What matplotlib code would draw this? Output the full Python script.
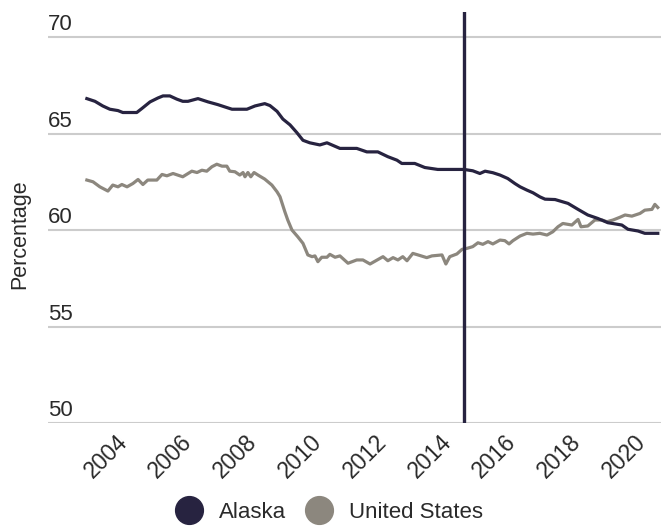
import matplotlib
matplotlib.use("Agg")
import matplotlib.pyplot as plt
import matplotlib.transforms as mtransforms
from matplotlib.lines import Line2D

plt.rcParams["font.family"] = ["Liberation Sans", "DejaVu Sans"]

# Employment-to-population ratio, decimal years
alaska_years = [2002.61, 2002.86, 2003.10, 2003.32, 2003.57, 2003.72, 2004.15, 2004.31,
                2004.56, 2004.80, 2004.96, 2005.17, 2005.39, 2005.57, 2005.73, 2006.04,
                2006.35, 2006.65, 2006.96, 2007.09, 2007.55, 2007.80, 2008.10, 2008.26,
                2008.48, 2008.66, 2008.88, 2009.09, 2009.28, 2009.49, 2009.80, 2010.02,
                2010.42, 2010.94, 2011.25, 2011.59, 2011.90, 2012.18, 2012.33, 2012.73,
                2013.04, 2013.44, 2014.25, 2014.52, 2014.74, 2014.90, 2015.14, 2015.36,
                2015.60, 2015.82, 2015.98, 2016.19, 2016.38, 2016.59, 2016.75, 2017.06,
                2017.46, 2017.77, 2018.07, 2018.38, 2018.69, 2019.12, 2019.31, 2019.62,
                2019.83, 2020.23]
alaska_values = [66.81, 66.67, 66.43, 66.26, 66.19, 66.09, 66.09, 66.30,
                 66.64, 66.84, 66.95, 66.95, 66.78, 66.67, 66.67, 66.81,
                 66.64, 66.50, 66.33, 66.26, 66.26, 66.43, 66.55, 66.45,
                 66.15, 65.75, 65.45, 65.05, 64.65, 64.52, 64.41, 64.52,
                 64.23, 64.23, 64.05, 64.05, 63.80, 63.62, 63.45, 63.45,
                 63.24, 63.14, 63.14, 63.07, 62.93, 63.05, 62.97, 62.85,
                 62.67, 62.41, 62.24, 62.07, 61.93, 61.72, 61.60, 61.58,
                 61.38, 61.07, 60.78, 60.60, 60.38, 60.26, 60.04, 59.95,
                 59.83, 59.83]

us_years = [2002.61, 2002.80, 2003.01, 2003.26, 2003.41, 2003.57, 2003.69, 2003.85,
            2004.03, 2004.19, 2004.34, 2004.49, 2004.77, 2004.93, 2005.08, 2005.27,
            2005.57, 2005.85, 2006.01, 2006.16, 2006.31, 2006.47, 2006.62, 2006.78,
            2006.93, 2007.02, 2007.18, 2007.33, 2007.43, 2007.49, 2007.58, 2007.67,
            2007.77, 2007.89, 2008.10, 2008.32, 2008.48, 2008.57, 2008.72, 2008.81,
            2008.94, 2009.12, 2009.28, 2009.43, 2009.56, 2009.65, 2009.74, 2009.86,
            2010.02, 2010.11, 2010.27, 2010.42, 2010.67, 2010.94, 2011.13, 2011.35,
            2011.75, 2011.90, 2012.06, 2012.21, 2012.36, 2012.49, 2012.67, 2012.83,
            2013.10, 2013.26, 2013.57, 2013.69, 2013.81, 2014.03, 2014.19, 2014.34,
            2014.52, 2014.68, 2014.83, 2014.99, 2015.14, 2015.36, 2015.51, 2015.64,
            2015.76, 2015.98, 2016.19, 2016.38, 2016.59, 2016.81, 2016.99, 2017.15,
            2017.30, 2017.58, 2017.77, 2017.86, 2018.07, 2018.29, 2018.51, 2018.66,
            2018.85, 2019.06, 2019.22, 2019.43, 2019.68, 2019.83, 2020.05, 2020.14,
            2020.23]
us_values = [62.59, 62.50, 62.24, 62.02, 62.33, 62.24, 62.36, 62.24,
             62.41, 62.62, 62.36, 62.59, 62.59, 62.88, 62.81, 62.93,
             62.76, 63.05, 62.98, 63.10, 63.05, 63.28, 63.41, 63.31,
             63.31, 63.05, 63.02, 62.85, 62.98, 62.76, 62.98, 62.76,
             62.98, 62.85, 62.64, 62.33, 61.98, 61.73, 60.95, 60.52,
             60.00, 59.65, 59.31, 58.71, 58.62, 58.66, 58.36, 58.59,
             58.59, 58.74, 58.59, 58.66, 58.28, 58.45, 58.45, 58.24,
             58.62, 58.41, 58.57, 58.45, 58.62, 58.41, 58.79, 58.71,
             58.57, 58.66, 58.71, 58.24, 58.62, 58.76, 59.00, 59.05,
             59.14, 59.34, 59.26, 59.40, 59.28, 59.48, 59.45, 59.28,
             59.45, 59.69, 59.83, 59.79, 59.83, 59.74, 59.91, 60.17,
             60.34, 60.26, 60.55, 60.17, 60.21, 60.52, 60.52, 60.43,
             60.52, 60.66, 60.78, 60.72, 60.86, 61.03, 61.07, 61.33,
             61.17]

event_year = 2014.25
x_ticks = [2004, 2006, 2008, 2010, 2012, 2014, 2016, 2018, 2020]
y_ticks = [50, 55, 60, 65, 70]
series_names = ["Alaska", "United States"]

ALASKA_COLOR = "#272340"
US_COLOR = "#8c877e"
GRID_COLOR = "#cccccc"
TEXT_COLOR = "#2a2a2a"

fig = plt.figure(figsize=(6.70, 5.27), dpi=100)
ax = fig.add_axes([0.0716, 0.1973, 0.915, 0.78])

ax.plot(us_years, us_values, color=US_COLOR, lw=2.3, solid_joinstyle="round", zorder=3)
ax.plot(alaska_years, alaska_values, color=ALASKA_COLOR, lw=2.3, solid_joinstyle="round", zorder=4)
ax.axvline(event_year, color=ALASKA_COLOR, lw=2.4, zorder=5)

ax.set_xlim(2001.41, 2020.33)
ax.set_ylim(50, 71.3)

for s in ax.spines.values():
    s.set_visible(False)

ax.set_yticks(y_ticks)
ax.yaxis.grid(True, color=GRID_COLOR, lw=1.5)
ax.set_axisbelow(True)
ax.tick_params(axis="y", length=0, labelleft=False)

# value labels sit above each gridline at the left edge
trans = mtransforms.blended_transform_factory(ax.transAxes, ax.transData)
trans = mtransforms.offset_copy(trans, fig=fig, x=0, y=7, units="dots")
for v in y_ticks:
    ax.text(0.0, v, str(v), transform=trans, ha="left", va="baseline",
            fontsize=16, color=TEXT_COLOR)

ax.set_xticks(x_ticks)
ax.set_xticklabels([str(y) for y in x_ticks], rotation=45, ha="right",
                   fontsize=16.5, color=TEXT_COLOR)
ax.tick_params(axis="x", length=0, pad=5)

fig.text(20 / 670, 1 - 234 / 527, "Percentage", rotation=90, ha="center", va="center",
         fontsize=15.5, color=TEXT_COLOR)

handles = [Line2D([], [], ls="none", marker="o", markersize=20, color=ALASKA_COLOR),
           Line2D([], [], ls="none", marker="o", markersize=20, color=US_COLOR)]
fig.legend(handles, series_names, loc="center", ncol=2, frameon=False,
           bbox_to_anchor=(329 / 670, 1 - 512 / 527), fontsize=16,
           handlelength=1.3, handletextpad=0.7, columnspacing=0.85,
           labelcolor=TEXT_COLOR, borderpad=0, borderaxespad=0)

fig.savefig("out.png", dpi=100)
